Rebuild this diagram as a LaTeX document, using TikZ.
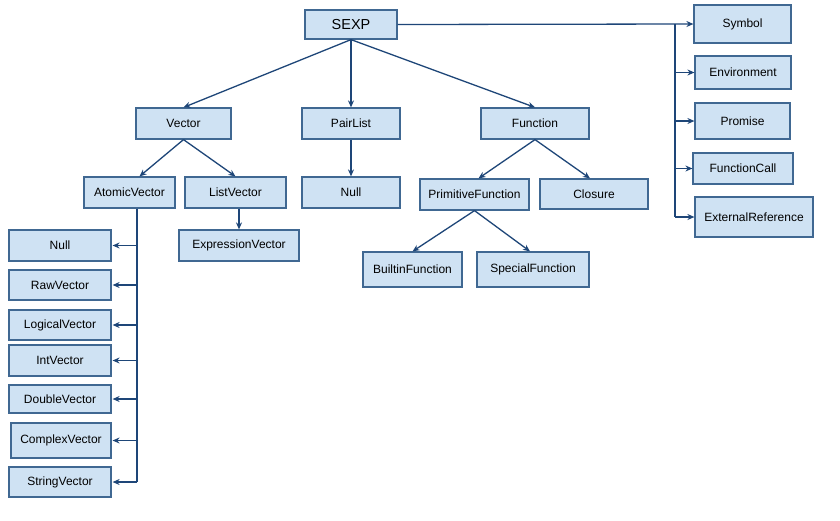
\documentclass[tikz,border=0pt]{standalone}
\usepackage{fontspec}
\setmainfont{Liberation Sans}
\usetikzlibrary{arrows.meta}
\definecolor{boxfill}{RGB}{207,226,243}
\definecolor{boxline}{RGB}{64,104,146}
\definecolor{arrcol}{RGB}{30,70,120}
\begin{document}
\begin{tikzpicture}[x=1pt,y=-1pt,
  box/.style={draw=boxline, fill=boxfill, line width=1.2pt, inner sep=0pt, font=\fontsize{12}{14}\selectfont},
  conn/.style={draw=arrcol, line width=1.3pt},
  arr/.style={conn, -{Stealth[length=7pt,width=6pt]}}]
\useasboundingbox (0,0) rectangle (840,520);
\fill[white] (0,0) rectangle (840,520);
% top
\node[box, minimum width=92pt, minimum height=29pt, font=\fontsize{14.5}{16}\selectfont] (sexp) at (351,24.5) {SEXP};
\node[box, minimum width=95pt, minimum height=31pt] (vector) at (183.5,123.5) {Vector};
\node[box, minimum width=98pt, minimum height=31pt] (pairlist) at (351,123.5) {PairList};
\node[box, minimum width=108pt, minimum height=31pt] (function) at (535,123.5) {Function};
% level 2
\node[box, minimum width=91pt, minimum height=31pt] (atomic) at (129.5,192.5) {AtomicVector};
\node[box, minimum width=101pt, minimum height=31pt] (listvec) at (235.5,192.5) {ListVector};
\node[box, minimum width=98pt, minimum height=31pt] (null2) at (351,192.5) {Null};
\node[box, minimum width=109pt, minimum height=31pt] (primfun) at (474.5,194.5) {PrimitiveFunction};
\node[box, minimum width=108pt, minimum height=30pt] (closure) at (594,194) {Closure};
\node[box, minimum width=120pt, minimum height=31pt] (exprvec) at (239,245.5) {ExpressionVector};
\node[box, minimum width=99pt, minimum height=35pt] (builtin) at (412.5,269.5) {BuiltinFunction};
\node[box, minimum width=112pt, minimum height=35pt] (special) at (533,269.5) {SpecialFunction};
% left column
\node[box, minimum width=102pt, minimum height=31pt] (null1) at (60,245.5) {Null};
\node[box, minimum width=102pt, minimum height=30pt] (raw) at (60,285) {RawVector};
\node[box, minimum width=102pt, minimum height=30pt] (logical) at (60,325) {LogicalVector};
\node[box, minimum width=102pt, minimum height=31pt] (int) at (60,360.5) {IntVector};
\node[box, minimum width=102pt, minimum height=28pt] (double) at (60,399) {DoubleVector};
\node[box, minimum width=100pt, minimum height=35pt] (complex) at (61,440.5) {ComplexVector};
\node[box, minimum width=102pt, minimum height=30pt] (string) at (60,482) {StringVector};
% right column
\node[box, minimum width=97pt, minimum height=38pt] (symbol) at (742.5,24) {Symbol};
\node[box, minimum width=96pt, minimum height=33pt] (env) at (743,72.5) {Environment};
\node[box, minimum width=95pt, minimum height=36pt] (promise) at (742.5,121) {Promise};
\node[box, minimum width=100pt, minimum height=31pt] (funcall) at (743,168.5) {FunctionCall};
\node[box, minimum width=118pt, minimum height=40pt] (extref) at (754,217) {ExternalReference};
% tree arrows
\draw[arr] (sexp.south) -- (vector.north);
\draw[arr] (sexp.south) -- (pairlist.north);
\draw[arr] (sexp.south) -- (function.north);
\draw[arr] (vector.south) -- ([xshift=10pt]atomic.north);
\draw[arr] (vector.south) -- (listvec.north);
\draw[arr] (exprvec.north |- listvec.south) -- (exprvec.north);
\draw[arr] (pairlist.south) -- (null2.north);
\draw[arr] (function.south) -- ([xshift=4pt]primfun.north);
\draw[arr] (function.south) -- ([xshift=-4pt]closure.north);
\draw[arr] (primfun.south) -- (builtin.north);
\draw[arr] (primfun.south) -- ([xshift=-3pt]special.north);
% left trunk
\coordinate (lt) at ([xshift=7.5pt]atomic.south);
\draw[conn] (lt) -- (lt |- string.east);
\foreach \n in {null1,raw,logical,int,double,complex,string}
  \draw[arr] (lt |- \n.east) -- ([xshift=1pt]\n.east);
% right trunk
\draw[arr] (sexp.east) -- (symbol.west);
\coordinate (rt) at (675,24);
\draw[conn] (rt) -- (rt |- extref.west);
\foreach \n in {env,promise,funcall,extref}
  \draw[arr] (rt |- \n.west) -- (\n.west);
\end{tikzpicture}
\end{document}
